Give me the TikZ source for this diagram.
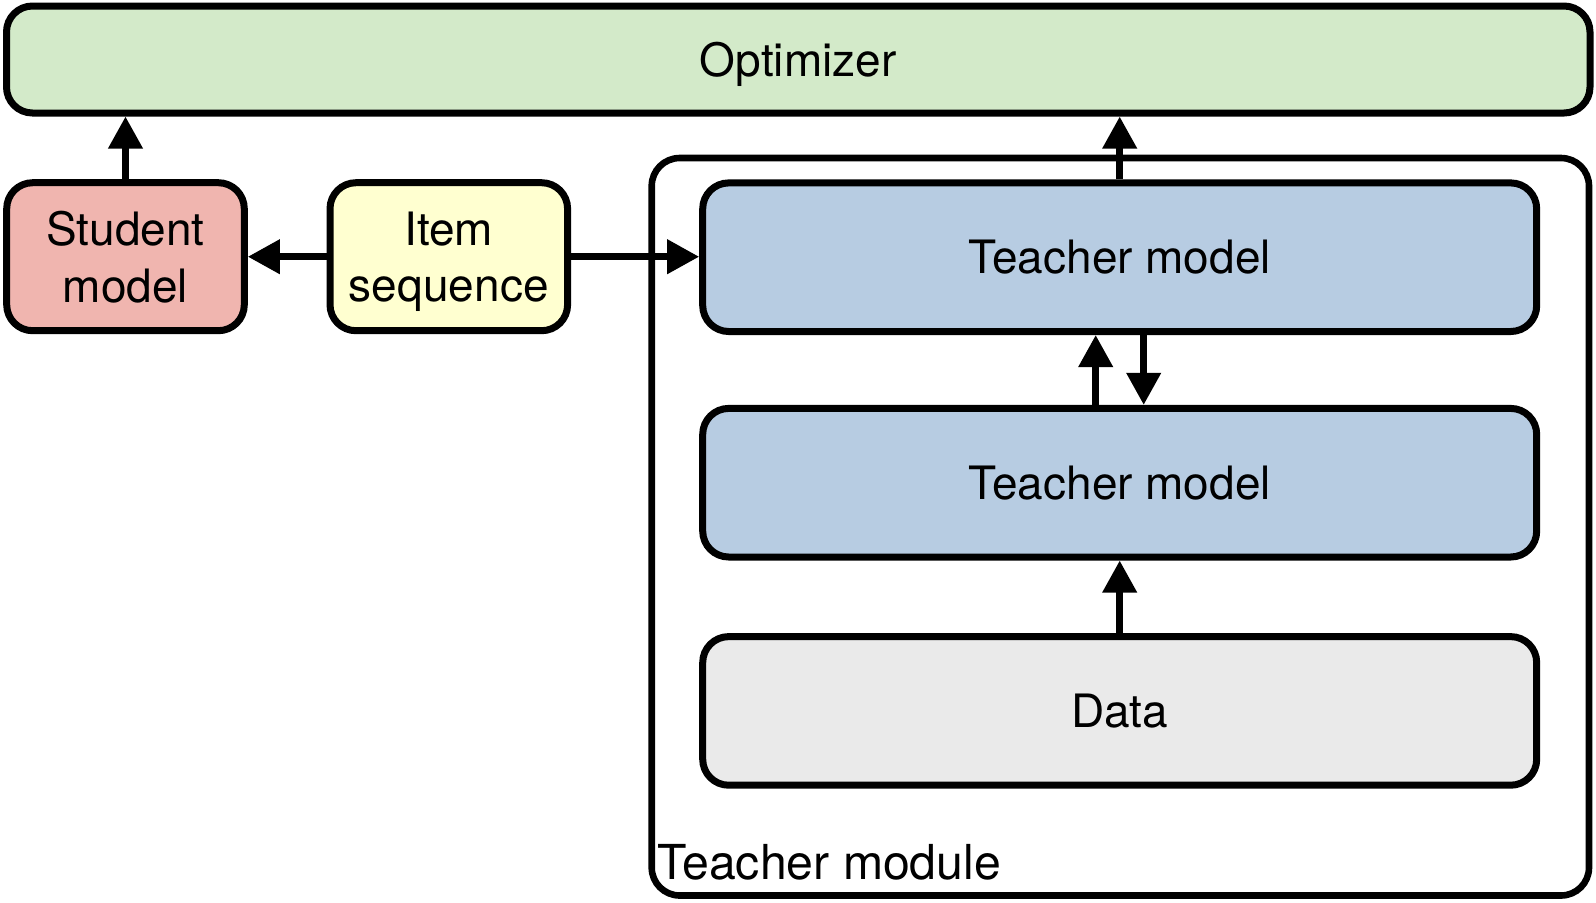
\documentclass[tikz,border=0pt]{standalone}
\usepackage{fontspec}
\setmainfont{TeX Gyre Heros}
\usetikzlibrary{arrows.meta}
\definecolor{optgreen}{HTML}{D3EAC9}
\definecolor{stured}{HTML}{F0B5AF}
\definecolor{itemyellow}{HTML}{FFFFD0}
\definecolor{teachblue}{HTML}{B7CCE2}
\definecolor{datagray}{HTML}{EAEAEA}
\begin{document}
\begin{tikzpicture}[x=0.5pt,y=-0.5pt,
  box/.style={draw=black, line width=3.5pt, rounded corners=13pt, inner sep=0pt,
    font=\fontsize{23}{28.3}\selectfont},
  smallbox/.style={box, align=center, text depth=0pt, minimum width=118.8pt, minimum height=74pt},
  wide/.style={box, fill=teachblue, minimum width=417pt, minimum height=74.3pt},
  arr/.style={line width=3.5pt, -{Triangle[length=16pt,width=16.5pt]}},
  lbl/.style={inner sep=0pt, font=\fontsize{24.1}{28}\selectfont},
]
\useasboundingbox (0,0) rectangle (1596,902);
% teacher module container
\node[draw=black, line width=3.3pt, rounded corners=14pt, inner sep=0pt,
  minimum width=468.65pt, minimum height=368.75pt] (tm) at (1120.35,526.75) {};
\node[lbl, anchor=base west] (tmlabel) at (657,879) {Teacher module};
% optimizer
\node[box, fill=optgreen, text depth=0pt, minimum width=791.75pt, minimum height=53.5pt] (opt) at (798.25,59.5) {Optimizer};
% student and item
\node[smallbox, fill=stured] (stu) at (125.5,256.7) {Student\\model};
\node[smallbox, fill=itemyellow] (item) at (448.8,256.7) {Item\\sequence};
% teacher models and data
\node[wide] (t1) at (1119.7,257.2) {Teacher model};
\node[wide] (t2) at (1119.7,482.7) {Teacher model};
\node[wide, fill=datagray] (data) at (1119.7,710.9) {Data};
% connectors
\draw[arr] (stu.north) -- (stu.north |- opt.south);
\draw[arr] (t1.north) -- (t1.north |- opt.south);
\draw[arr] (item.west) -- (stu.east);
\draw[arr] (item.east) -- (item.east -| t1.west);
\draw[arr] ([xshift=-12pt]t2.north) -- ([xshift=-12pt]t1.south);
\draw[arr] ([xshift=12pt]t1.south) -- ([xshift=12pt]t2.north);
\draw[arr] (data.north) -- (t2.south);
\end{tikzpicture}
\end{document}
